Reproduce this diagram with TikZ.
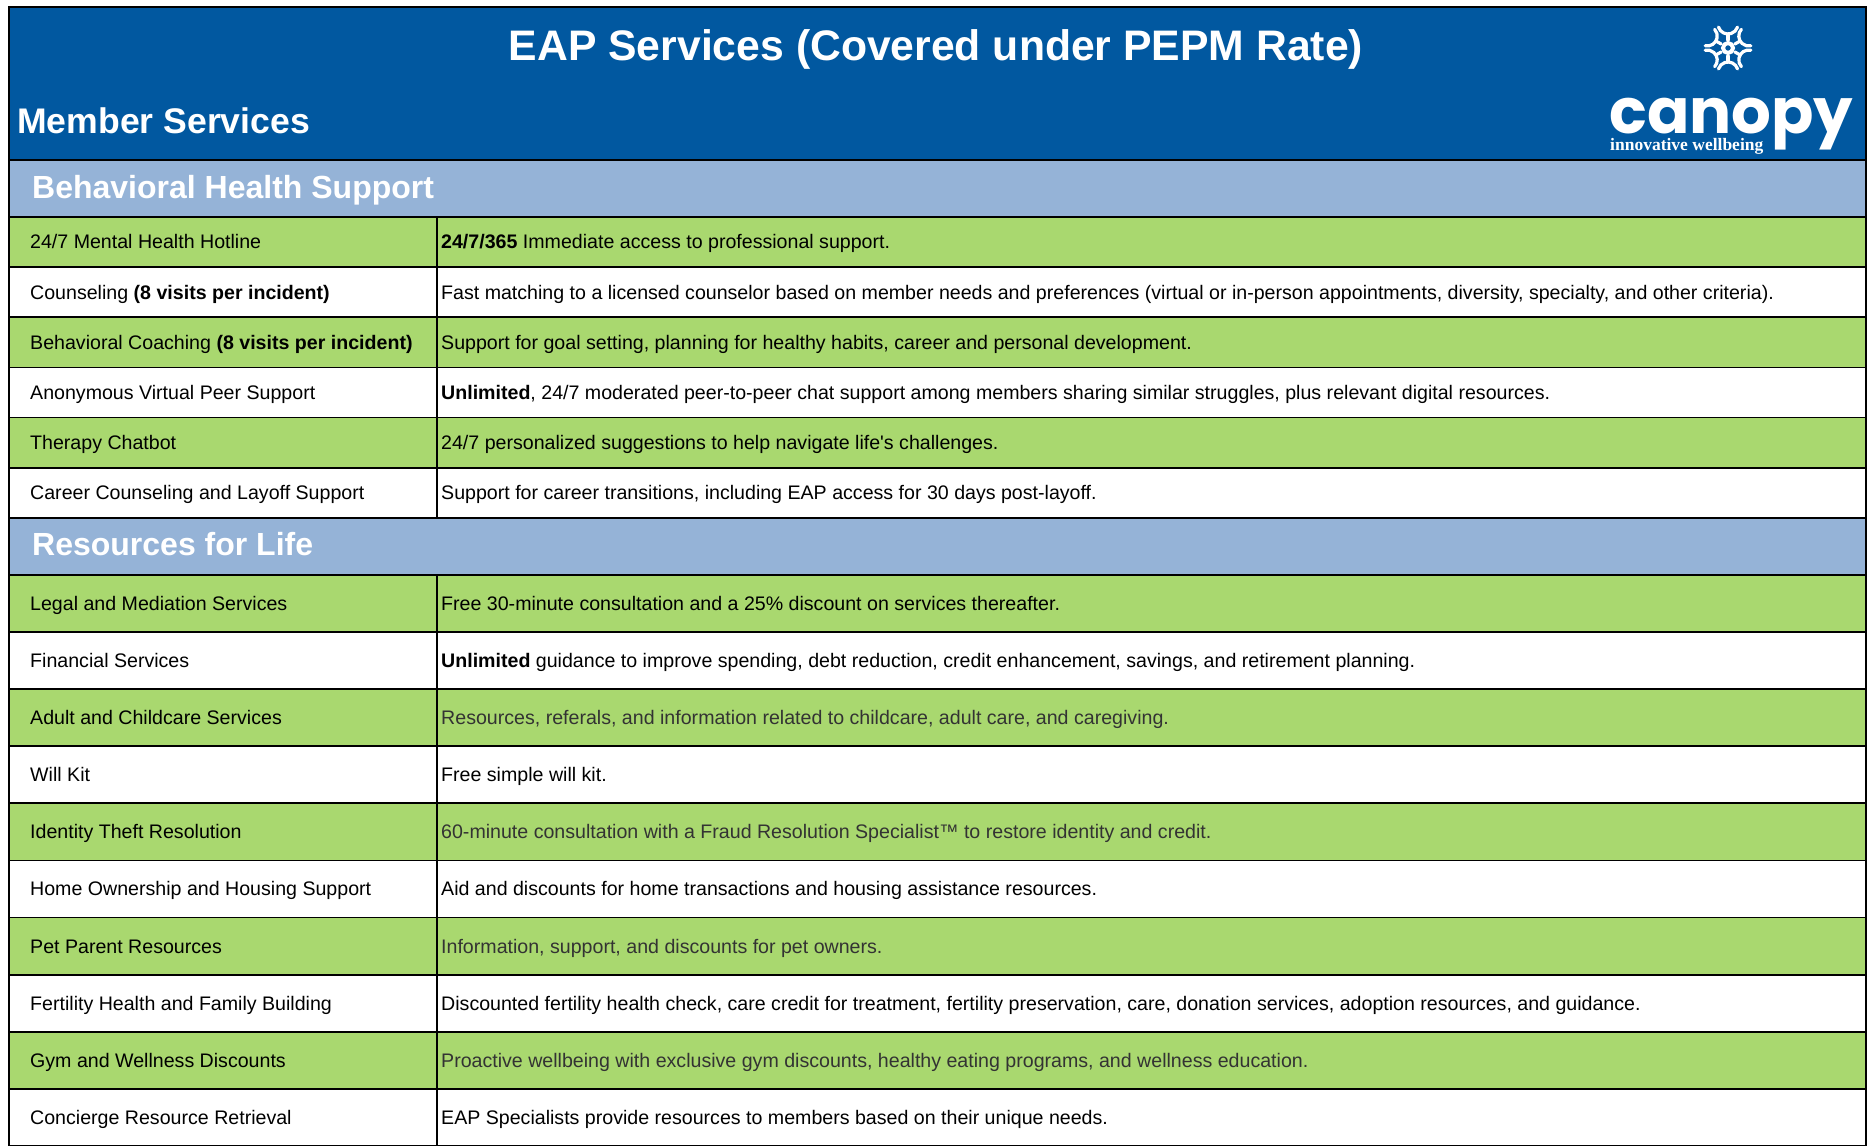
\documentclass[tikz,border=0pt]{standalone}
\usepackage{fontspec}
\setmainfont{Liberation Sans}
\newfontfamily\logofont{Poppins}
\newfontfamily\tagfont{Liberation Serif}
\usetikzlibrary{calc}
\definecolor{hdrblue}{RGB}{1,88,160}
\definecolor{bandblue}{RGB}{149,179,215}
\definecolor{rowgreen}{RGB}{169,216,111}
\definecolor{darkgray}{RGB}{51,51,51}
\tikzset{
  cellbox/.style={rectangle, draw=black, line width=1.8pt, anchor=north west, inner sep=0pt},
  celltext/.style={anchor=west, inner sep=0pt, font=\fontsize{19.6}{22}\selectfont, text height=14pt, text depth=0pt},
  bandtext/.style={anchor=base west, inner sep=0pt, text=white, font=\fontsize{32}{36}\selectfont\bfseries},
  logoline/.style={draw=white, line width=3.2pt, line cap=round}
}
\newcommand\eaprow[7]{%
  \node[cellbox, fill=#4, minimum width=428pt, minimum height=#3pt] (#1a) at (8,#2) {};
  \node[cellbox, fill=#4, minimum width=1429pt, minimum height=#3pt] (#1b) at (436,#2) {};
  \node[celltext] (#1ta) at ([xshift=22pt]#1a.west) {#5};
  \node[celltext, text=#7] (#1tb) at ([xshift=5pt]#1b.west) {#6};
}
\begin{document}
\begin{tikzpicture}[x=1pt, y=-1pt]
\useasboundingbox (0,0) rectangle (1869,1146);
\fill[white] (0,0) rectangle (1869,1146);
% header
\node[cellbox, fill=hdrblue, line width=2pt, minimum width=1857pt, minimum height=153pt] (hdr) at (8,6) {};
\node[anchor=base, inner sep=0pt, text=white, font=\fontsize{42.7}{46}\selectfont\bfseries] (title) at (936,60) {EAP Services (Covered under PEPM Rate)};
\node[anchor=base west, inner sep=0pt, text=white, font=\fontsize{35.6}{40}\selectfont\bfseries] (member) at (17,133) {Member Services};
% logo
\coordinate (sp) at (1728,48);
\node[circle, draw=white, line width=4pt, minimum size=10pt, inner sep=0pt] (spc) at (sp) {};
\foreach \a in {30,90,...,330} {
  \draw[logoline] ($(sp)+(\a:8)$) -- ($(sp)+(\a:14)$);
  \draw[logoline] ($(sp)+(\a:24)+(\a+180+72:10)$) arc[start angle=\a+180+72, end angle=\a+180-72, radius=10];
}
\node[anchor=base west, inner sep=0pt, text depth=0pt, text=white, font=\logofont\fontsize{62.5}{66}\selectfont\bfseries] (canopy) at (1609,133) {canopy};
\node[anchor=base west, inner sep=0pt, text=white, font=\tagfont\fontsize{17.5}{19}\selectfont\bfseries] (tag) at (1610,150) {innovative wellbeing};
% band 1
\node[cellbox, fill=bandblue, minimum width=1857pt, minimum height=57pt] (band1) at (8,159) {};
\node[bandtext] (band1t) at (32,198) {Behavioral Health Support};
\eaprow{r1}{216}{50.17}{rowgreen}{24/7 Mental Health Hotline}{\textbf{24/7/365} Immediate access to professional support.}{black}
\eaprow{r2}{266.17}{50.17}{white}{Counseling \textbf{(8 visits per incident)}}{Fast matching to a licensed counselor based on member needs and preferences (virtual or in-person appointments, diversity, specialty, and other criteria).}{black}
\eaprow{r3}{316.33}{50.17}{rowgreen}{Behavioral Coaching \textbf{(8 visits per incident)}}{Support for goal setting, planning for healthy habits, career and personal development.}{black}
\eaprow{r4}{366.5}{50.17}{white}{Anonymous Virtual Peer Support}{\textbf{Unlimited}, 24/7 moderated peer-to-peer chat support among members sharing similar struggles, plus relevant digital resources.}{black}
\eaprow{r5}{416.67}{50.17}{rowgreen}{Therapy Chatbot}{24/7 personalized suggestions to help navigate life\textquotesingle s challenges.}{black}
\eaprow{r6}{466.83}{50.17}{white}{Career Counseling and Layoff Support}{Support for career transitions, including EAP access for 30 days post-layoff.}{black}
% band 2
\node[cellbox, fill=bandblue, minimum width=1857pt, minimum height=57pt] (band2) at (8,517) {};
\node[bandtext] (band2t) at (32,555) {Resources for Life};
\eaprow{s1}{574}{57.1}{rowgreen}{Legal and Mediation Services}{Free 30-minute consultation and a 25\% discount on services thereafter.}{black}
\eaprow{s2}{631.1}{57.1}{white}{Financial Services}{\textbf{Unlimited} guidance to improve spending, debt reduction, credit enhancement, savings, and retirement planning.}{black}
\eaprow{s3}{688.2}{57.1}{rowgreen}{Adult and Childcare Services}{Resources, referals, and information related to childcare, adult care, and caregiving.}{darkgray}
\eaprow{s4}{745.3}{57.1}{white}{Will Kit}{Free simple will kit.}{black}
\eaprow{s5}{802.4}{57.1}{rowgreen}{Identity Theft Resolution}{60-minute consultation with a Fraud Resolution Specialist™ to restore identity and credit.}{darkgray}
\eaprow{s6}{859.5}{57.1}{white}{Home Ownership and Housing Support}{Aid and discounts for home transactions and housing assistance resources.}{black}
\eaprow{s7}{916.6}{57.1}{rowgreen}{Pet Parent Resources}{Information, support, and discounts for pet owners.}{darkgray}
\eaprow{s8}{973.7}{57.1}{white}{Fertility Health and Family Building}{Discounted fertility health check, care credit for treatment, fertility preservation, care, donation services, adoption resources, and guidance.}{black}
\eaprow{s9}{1030.8}{57.1}{rowgreen}{Gym and Wellness Discounts}{Proactive wellbeing with exclusive gym discounts, healthy eating programs, and wellness education.}{darkgray}
\eaprow{s10}{1087.9}{57.1}{white}{Concierge Resource Retrieval}{EAP Specialists provide resources to members based on their unique needs.}{black}
\end{tikzpicture}
\end{document}
